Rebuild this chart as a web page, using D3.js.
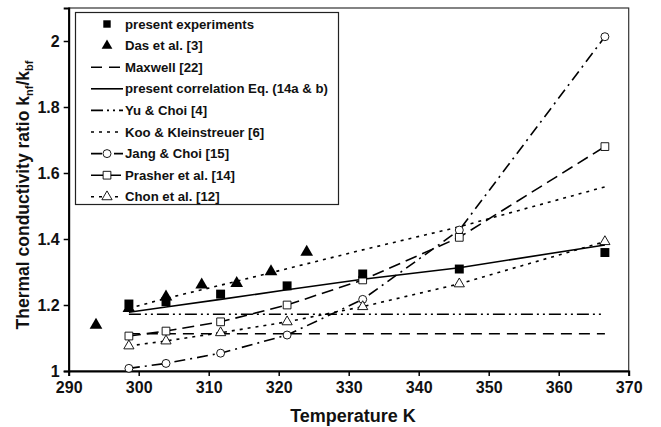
<!DOCTYPE html>
<html lang="en">
<head>
    <meta charset="UTF-8">
    <title>Thermal conductivity ratio vs temperature</title>
    <style>
        body { margin: 0; background: #fff; }
        svg { display: block; font-family: "Liberation Sans", Arial, sans-serif; font-weight: bold; }
    </style>
</head>
<body>
    <svg width="661" height="427"></svg>

    <script src="https://d3js.org/d3.v7.min.js"></script>
    <script>
        // temperatures (K) of the model / experiment points
        const temps = [298.6, 303.9, 311.7, 321.2, 332, 345.8, 366.6];

        const experiments = [1.203, 1.21, 1.233, 1.258, 1.294, 1.309, 1.359];
        const dasTemps = [293.9, 298.6, 303.9, 309, 314, 318.9, 324];
        const dasValues = [1.139, 1.19, 1.225, 1.261, 1.266, 1.301, 1.36];

        const maxwell = [1.113, 1.113, 1.113, 1.113, 1.113, 1.113, 1.113];
        const correlation = [1.178, 1.194, 1.217, 1.246, 1.278, 1.313, 1.382];
        const yuChoi = [1.172, 1.172, 1.172, 1.172, 1.172, 1.172, 1.172];
        const kooKleinstreuer = [1.19, 1.22, 1.26, 1.31, 1.367, 1.437, 1.558];
        const jangChoi = [1.008, 1.023, 1.054, 1.109, 1.217, 1.427, 2.013];
        const prasher = [1.106, 1.121, 1.149, 1.2, 1.276, 1.405, 1.68];
        const chon = [1.076, 1.091, 1.116, 1.149, 1.195, 1.264, 1.392];

        const xTicks = [290, 300, 310, 320, 330, 340, 350, 360, 370];
        const yTicks = [1, 1.2, 1.4, 1.6, 1.8, 2];

        const svg = d3.select("svg");

        const x = d3.scaleLinear().domain([290, 370]).range([68.7, 628.7]);
        const y = d3.scaleLinear().domain([1, 2.1]).range([371, 8]);

        // frame (top / right)
        svg.append("rect")
            .attr("x", x(290)).attr("y", y(2.1))
            .attr("width", x(370) - x(290)).attr("height", y(1) - y(2.1))
            .attr("fill", "none").attr("stroke", "#333").attr("stroke-width", 1.2);

        const xAxis = svg.append("g")
            .attr("transform", `translate(0,${y(1)})`)
            .call(d3.axisBottom(x).tickValues(xTicks).tickFormat(d3.format("d")).tickSizeOuter(0).tickSize(5));
        const yAxis = svg.append("g")
            .attr("transform", `translate(${x(290)},0)`)
            .call(d3.axisLeft(y).tickValues(yTicks).tickFormat(d => d).tickSizeOuter(0).tickSize(5));

        [xAxis, yAxis].forEach(g => {
            g.select(".domain").attr("stroke", "#000").attr("stroke-width", 2);
            g.selectAll(".tick line").attr("stroke", "#000").attr("stroke-width", 1.5);
            g.selectAll("text").attr("fill", "#111").style("font-size", "16px")
                .style("font-family", "'Liberation Sans', Arial, sans-serif").style("font-weight", "bold");
        });
        xAxis.selectAll("text").attr("dy", "0.9em");
        yAxis.selectAll("text").attr("x", -9);

        // axis titles
        svg.append("text")
            .attr("x", 353).attr("y", 422)
            .attr("text-anchor", "middle")
            .style("font-size", "18px").attr("fill", "#111")
            .text("Temperature K");

        const yTitle = svg.append("text")
            .attr("transform", `translate(29,195) rotate(-90)`)
            .attr("text-anchor", "middle")
            .style("font-size", "17.5px").attr("fill", "#111");
        yTitle.append("tspan").text("Thermal conductivity ratio k");
        yTitle.append("tspan").attr("dy", 4).style("font-size", "11px").text("nf");
        yTitle.append("tspan").attr("dy", -4).text("/k");
        yTitle.append("tspan").attr("dy", 4).style("font-size", "11px").text("bf");

        const line = d3.line().x(d => x(d[0])).y(d => y(d[1]));

        const series = [
            { name: "Maxwell [22]", values: maxwell, dash: "11,7", marker: null },
            { name: "present correlation Eq. (14a & b)", values: correlation, dash: null, marker: null },
            { name: "Yu & Choi [4]", values: yuChoi, dash: "12,4,2,4,2,4", marker: null },
            { name: "Koo & Kleinstreuer [6]", values: kooKleinstreuer, dash: "3,5", marker: null },
            { name: "Jang & Choi [15]", values: jangChoi, dash: "11,5,2,5", marker: "circle" },
            { name: "Prasher et al. [14]", values: prasher, dash: "12,6", marker: "square" },
            { name: "Chon et al. [12]", values: chon, dash: "3,5", marker: "triangle" }
        ];

        const symbols = {
            circle: d3.symbol().type(d3.symbolCircle).size(50),
            square: d3.symbol().type(d3.symbolSquare).size(60),
            triangle: d3.symbol().type(d3.symbolTriangle).size(45)
        };

        series.forEach(s => {
            const pts = temps.map((t, i) => [t, s.values[i]]);
            svg.append("path")
                .datum(pts)
                .attr("d", line)
                .attr("fill", "none")
                .attr("stroke", "#000")
                .attr("stroke-width", 1.6)
                .attr("stroke-dasharray", s.dash);
            if (s.marker) {
                svg.selectAll(null)
                    .data(pts)
                    .enter()
                    .append("path")
                    .attr("d", symbols[s.marker])
                    .attr("transform", d => `translate(${x(d[0])},${y(d[1])})`)
                    .attr("fill", "#fff")
                    .attr("stroke", "#000")
                    .attr("stroke-width", 0.9);
            }
        });

        // present experiments
        svg.selectAll(null)
            .data(temps.map((t, i) => [t, experiments[i]]))
            .enter()
            .append("path")
            .attr("d", d3.symbol().type(d3.symbolSquare).size(80))
            .attr("transform", d => `translate(${x(d[0])},${y(d[1])})`)
            .attr("fill", "#000");

        // Das et al.
        svg.selectAll(null)
            .data(dasTemps.map((t, i) => [t, dasValues[i]]))
            .enter()
            .append("path")
            .attr("d", d3.symbol().type(d3.symbolTriangle).size(70))
            .attr("transform", d => `translate(${x(d[0])},${y(d[1])})`)
            .attr("fill", "#000");

        // legend
        const legend = svg.append("g");
        legend.append("rect")
            .attr("x", 75.5).attr("y", 12.5)
            .attr("width", 263).attr("height", 192)
            .attr("fill", "#fff").attr("stroke", "#222").attr("stroke-width", 1.2);

        const legendRows = [
            { name: "present experiments", dash: null, line: false, marker: "fsquare" },
            { name: "Das et al. [3]", dash: null, line: false, marker: "ftriangle" }
        ].concat(series.map(s => ({ name: s.name, dash: s.dash, line: true, marker: s.marker })));

        legendRows.forEach((r, i) => {
            const cy = 24 + i * 21.6;
            const g = legend.append("g");
            if (r.line) {
                g.append("line")
                    .attr("x1", 91).attr("x2", 123).attr("y1", cy).attr("y2", cy)
                    .attr("stroke", "#000").attr("stroke-width", 1.6)
                    .attr("stroke-dasharray", r.dash);
            }
            if (r.marker === "fsquare") {
                g.append("path").attr("d", d3.symbol().type(d3.symbolSquare).size(55))
                    .attr("transform", `translate(107,${cy})`).attr("fill", "#000");
            } else if (r.marker === "ftriangle") {
                g.append("path").attr("d", d3.symbol().type(d3.symbolTriangle).size(50))
                    .attr("transform", `translate(107,${cy})`).attr("fill", "#000");
            } else if (r.marker) {
                g.append("path").attr("d", symbols[r.marker])
                    .attr("transform", `translate(107,${cy})`)
                    .attr("fill", "#fff").attr("stroke", "#000").attr("stroke-width", 0.9);
            }
            g.append("text")
                .attr("x", 125).attr("y", cy).attr("dy", "0.35em")
                .style("font-size", "13.2px").attr("fill", "#111")
                .text(r.name);
        });
    </script>
</body>
</html>
